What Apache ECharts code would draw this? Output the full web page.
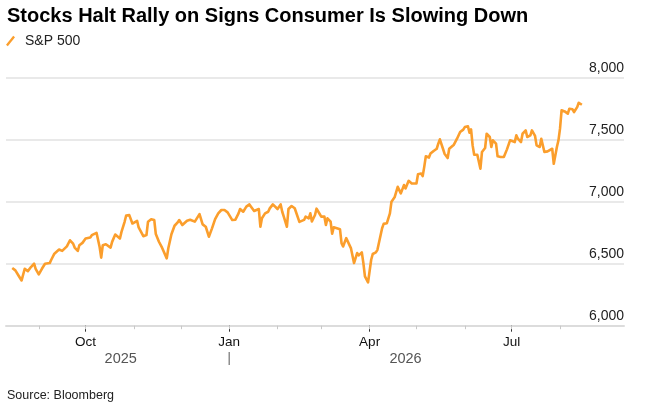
<!DOCTYPE html>
<html>
<head>
<meta charset="utf-8">
<script src="https://cdn.jsdelivr.net/npm/echarts@6/dist/echarts.min.js"></script>
<style>
  html, body { margin: 0; padding: 0; background: #fff; }
  #chart { width: 648px; height: 406px; }
</style>
</head>
<body>
<div id="chart"></div>
<script>
const FONT = "'Liberation Sans', Arial, sans-serif";
const ORANGE = "#fb9e2c";

// S&P 500 level
const dates = [
  "2025-08-15","2025-08-17","2025-08-18","2025-08-19","2025-08-21","2025-08-23","2025-08-25","2025-08-27","2025-08-29","2025-08-30",
  "2025-09-01","2025-09-03","2025-09-05","2025-09-06","2025-09-08","2025-09-09","2025-09-11","2025-09-12","2025-09-14","2025-09-16",
  "2025-09-17","2025-09-19","2025-09-21","2025-09-23","2025-09-24","2025-09-26","2025-09-27","2025-09-29","2025-10-01","2025-10-02",
  "2025-10-04","2025-10-05","2025-10-06","2025-10-08","2025-10-09","2025-10-10","2025-10-11","2025-10-12","2025-10-14","2025-10-15",
  "2025-10-17","2025-10-18","2025-10-20","2025-10-21","2025-10-23","2025-10-24","2025-10-26","2025-10-27","2025-10-29","2025-10-31",
  "2025-11-01","2025-11-03","2025-11-04","2025-11-05","2025-11-07","2025-11-08","2025-11-09","2025-11-10","2025-11-12","2025-11-14",
  "2025-11-15","2025-11-16","2025-11-17","2025-11-19","2025-11-20","2025-11-22","2025-11-23","2025-11-25","2025-11-27","2025-11-29",
  "2025-11-30","2025-12-02","2025-12-03","2025-12-05","2025-12-07","2025-12-08","2025-12-10","2025-12-11","2025-12-13","2025-12-15",
  "2025-12-17","2025-12-18","2025-12-19","2025-12-21","2025-12-23","2025-12-25","2025-12-27","2025-12-29","2025-12-31","2026-01-01",
  "2026-01-03","2026-01-05","2026-01-06","2026-01-07","2026-01-08","2026-01-10","2026-01-11","2026-01-12","2026-01-14","2026-01-15",
  "2026-01-17","2026-01-18","2026-01-20","2026-01-21","2026-01-22","2026-01-24","2026-01-26","2026-01-27","2026-01-29","2026-01-30",
  "2026-02-01","2026-02-03","2026-02-04","2026-02-05","2026-02-07","2026-02-08","2026-02-10","2026-02-12","2026-02-13","2026-02-15",
  "2026-02-16","2026-02-18","2026-02-19","2026-02-21","2026-02-22","2026-02-23","2026-02-25","2026-02-26","2026-02-28","2026-03-01",
  "2026-03-03","2026-03-04","2026-03-05","2026-03-07","2026-03-08","2026-03-09","2026-03-11","2026-03-13","2026-03-14","2026-03-15",
  "2026-03-17","2026-03-18","2026-03-20","2026-03-21","2026-03-22","2026-03-24","2026-03-25","2026-03-27","2026-03-28","2026-03-29",
  "2026-03-31","2026-04-01","2026-04-02","2026-04-03","2026-04-05","2026-04-06","2026-04-07","2026-04-09","2026-04-10","2026-04-12",
  "2026-04-14","2026-04-15","2026-04-17","2026-04-19","2026-04-20","2026-04-21","2026-04-23","2026-04-24","2026-04-26","2026-04-28",
  "2026-04-29","2026-05-01","2026-05-02","2026-05-04","2026-05-05","2026-05-06","2026-05-07","2026-05-09","2026-05-10","2026-05-12",
  "2026-05-13","2026-05-14","2026-05-15","2026-05-16","2026-05-18","2026-05-19","2026-05-20","2026-05-21","2026-05-22","2026-05-23",
  "2026-05-25","2026-05-27","2026-05-28","2026-05-29","2026-05-31","2026-06-01","2026-06-03","2026-06-04","2026-06-05","2026-06-06",
  "2026-06-07","2026-06-08","2026-06-09","2026-06-11","2026-06-12","2026-06-14","2026-06-15","2026-06-17","2026-06-18","2026-06-19",
  "2026-06-21","2026-06-22","2026-06-24","2026-06-26","2026-06-27","2026-06-28","2026-06-30","2026-07-01","2026-07-03","2026-07-04",
  "2026-07-05","2026-07-07","2026-07-08","2026-07-10","2026-07-11","2026-07-13","2026-07-14","2026-07-16","2026-07-17","2026-07-19",
  "2026-07-20","2026-07-21","2026-07-22","2026-07-24","2026-07-25","2026-07-27","2026-07-28","2026-07-30","2026-07-31","2026-08-01",
  "2026-08-02","2026-08-04","2026-08-05","2026-08-06","2026-08-07","2026-08-09","2026-08-10","2026-08-11","2026-08-12","2026-08-13",
  "2026-08-15"
];
const spx = [
  6465,6446,6432,6405,6365,6459,6440,6473,6500,6459,
  6414,6459,6500,6484,6505,6532,6581,6586,6614,6603,
  6595,6640,6689,6662,6630,6603,6649,6668,6703,6711,
  6711,6730,6716,6749,6738,6635,6549,6649,6657,6668,
  6630,6676,6735,6735,6703,6757,6838,6889,6892,6824,
  6830,6846,6792,6800,6722,6722,6731,6839,6858,6852,
  6739,6726,6677,6629,6645,6543,6624,6737,6806,6833,
  6852,6812,6825,6847,6855,6871,6839,6849,6900,6817,
  6798,6785,6718,6785,6860,6906,6933,6933,6914,6900,
  6852,6855,6866,6906,6941,6919,6919,6960,6978,6960,
  6925,6941,6941,6798,6866,6906,6919,6946,6978,6973,
  6941,6978,6919,6879,6798,6941,6965,6947,6938,6837,
  6840,6853,6880,6866,6906,6840,6893,6944,6901,6880,
  6880,6813,6866,6840,6741,6794,6786,6778,6666,6639,
  6706,6719,6626,6612,6505,6586,6567,6591,6505,6398,
  6350,6345,6532,6578,6591,6612,6618,6786,6821,6826,
  6906,7000,7035,7120,7107,7067,7134,7107,7168,7147,
  7134,7147,7222,7227,7206,7281,7366,7356,7388,7409,
  7401,7427,7468,7503,7427,7387,7379,7352,7427,7441,
  7460,7508,7522,7562,7581,7602,7608,7556,7583,7454,
  7379,7387,7379,7266,7401,7433,7548,7522,7441,7495,
  7468,7366,7360,7360,7360,7422,7495,7481,7481,7535,
  7508,7481,7548,7575,7522,7535,7575,7530,7454,7441,
  7508,7500,7401,7406,7406,7427,7306,7441,7495,7589,
  7737,7728,7723,7710,7750,7745,7723,7737,7763,7798,
  7782
];

const monthLabels = ["Oct", "Jan", "Apr", "Jul"];
const monthLabelDates = ["2025-10-01", "2026-01-01", "2026-04-01", "2026-07-01"];
const monthTickDates = [
  "2025-09-01","2025-10-01","2025-11-01","2025-12-01","2026-01-01","2026-02-01",
  "2026-03-01","2026-04-01","2026-05-01","2026-06-01","2026-07-01","2026-08-01"
];
const yearLabels = ["2025", "2026"];
const yearBreak = "2026-01-01";
const yMin = 6000, yMax = 8000, yStep = 500;
const xMin = "2025-08-11", xMax = "2026-09-11";

// dates become timestamps on a plain value axis (custom ticks)
const ts = d => echarts.time.parse(d).getTime();
const majorTs = monthLabelDates.map(ts);
const minorTs = monthTickDates.map(ts);

const chart = echarts.init(document.getElementById("chart"), null, { renderer: "canvas" });

chart.setOption({
  backgroundColor: "#fff",
  animation: false,
  textStyle: { fontFamily: FONT },
  title: {
    text: "Stocks Halt Rally on Signs Consumer Is Slowing Down",
    left: 7, top: 6, padding: 0,
    textStyle: { fontFamily: FONT, fontSize: 20, fontWeight: "bold", color: "#000" },
  },
  legend: {
    left: 6, top: 34, padding: 0,
    data: ["S&P 500"],
    icon: "path://M0,10 L8,0 L10,1.6 L2,11.6 Z",
    itemWidth: 9, itemHeight: 11,
    textStyle: { fontFamily: FONT, fontSize: 14, color: "#222", padding: [0, 0, 0, 5] },
  },
  grid: { left: 6, right: 24, top: 77.7, bottom: 80.3, outerBoundsMode: "none" },
  xAxis: [{
    type: "value",
    min: ts(xMin), max: ts(xMax),
    axisLine: { show: true, lineStyle: { color: "#dcdcdc", width: 2 } },
    axisTick: { show: true, customValues: majorTs, length: 6, lineStyle: { color: "#333", width: 1 } },
    axisLabel: {
      customValues: majorTs,
      margin: 10,
      fontFamily: FONT, fontSize: 13.5, color: "#111",
      formatter: v => monthLabels[majorTs.indexOf(v)] || "",
    },
    splitLine: { show: false },
  }, {
    type: "value",
    gridIndex: 0, position: "bottom",
    min: ts(xMin), max: ts(xMax),
    axisLine: { show: false },
    axisTick: { show: true, customValues: minorTs, length: 3.5, lineStyle: { color: "#c8c8c8", width: 1 } },
    axisLabel: { show: false },
    splitLine: { show: false },
  }],
  yAxis: {
    type: "value",
    position: "right",
    min: yMin, max: yMax, interval: yStep,
    axisLine: { show: false },
    axisTick: { show: false },
    splitLine: { lineStyle: { color: "#e2e2e2", width: 1.5 } },
    axisLabel: {
      inside: true, margin: 0,
      align: "right", verticalAlign: "bottom",
      padding: [0, 0, 3, 0],
      fontFamily: FONT, fontSize: 14, color: "#222",
      formatter: v => v.toLocaleString("en-US"),
    },
  },
  series: [{
    name: "S&P 500",
    type: "line",
    data: dates.map((d, i) => [ts(d), spx[i]]),
    showSymbol: false,
    color: ORANGE,
    lineStyle: { color: ORANGE, width: 2.6, join: "round" },
    z: 5,
  }],
});

// year labels sit under the span of data each year covers
const px = d => chart.convertToPixel({ xAxisIndex: 0 }, ts(d));
const xStart = px(dates[0]), xBreak = px(yearBreak), xEnd = px(dates[dates.length - 1]);

chart.setOption({
  graphic: [
    {
      type: "text", x: (xStart + xBreak) / 2, y: 359,
      style: { text: yearLabels[0], font: "14.5px " + FONT, fill: "#555", align: "center", verticalAlign: "middle" },
    },
    {
      type: "text", x: (xBreak + xEnd) / 2, y: 359,
      style: { text: yearLabels[1], font: "14.5px " + FONT, fill: "#555", align: "center", verticalAlign: "middle" },
    },
    {
      type: "line", shape: { x1: xBreak, y1: 352, x2: xBreak, y2: 365 },
      style: { stroke: "#555", lineWidth: 1 },
    },
    {
      type: "text", left: 7, top: 389,
      style: { text: "Source: Bloomberg", font: "12.5px " + FONT, fill: "#222" },
    },
  ],
});

window.addEventListener("resize", () => chart.resize());
</script>
</body>
</html>
